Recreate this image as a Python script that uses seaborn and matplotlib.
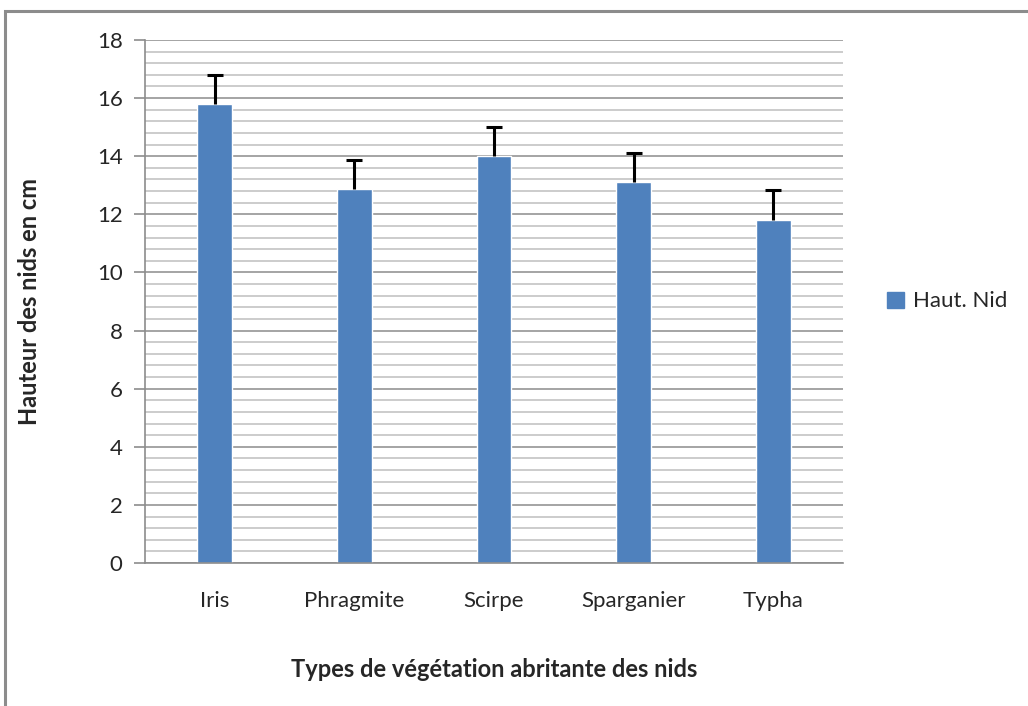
import matplotlib
matplotlib.use("Agg")
import matplotlib.pyplot as plt
import numpy as np
import pandas as pd
import seaborn as sns
from matplotlib.patches import Patch, Rectangle
from matplotlib.ticker import MultipleLocator

categories = ["Iris", "Phragmite", "Scirpe", "Sparganier", "Typha"]
heights = [15.8, 12.87, 14.0, 13.11, 11.8]
errors = [1.0, 1.0, 1.0, 1.0, 1.03]

df = pd.DataFrame({"type": categories, "hauteur": heights})

sns.set_style("white")
plt.rcParams["font.family"] = ["Lato", "DejaVu Sans"]

fig = plt.figure(figsize=(10.28, 7.06), dpi=100)
ax = fig.add_axes([0.141, 0.2025, 0.679, 0.741])

bar_color = "#4F81BD"
sns.barplot(data=df, x="type", y="hauteur", color=bar_color, width=0.25,
            errorbar=None, saturation=1, ax=ax)
eb = ax.errorbar(np.arange(len(categories)), heights,
                 yerr=[np.zeros(len(errors)), errors], fmt="none",
                 ecolor="black", elinewidth=2.2, capsize=6, capthick=2.2,
                 zorder=4)
# plus-only error bars: hide the caps sitting on the bar tops
eb.lines[1][0].set_visible(False)

ax.set_ylim(0, 18)
ax.set_xlim(-0.5, len(categories) - 0.5)
ax.yaxis.set_major_locator(MultipleLocator(2))
ax.yaxis.set_minor_locator(MultipleLocator(0.4))
ax.grid(which="major", axis="y", color="#8c8c8c", linewidth=1.1)
ax.grid(which="minor", axis="y", color="#bfbfbf", linewidth=1.1)
ax.set_axisbelow(True)

for side in ["top", "right"]:
    ax.spines[side].set_visible(False)
for side in ["left", "bottom"]:
    ax.spines[side].set_color("#8c8c8c")
    ax.spines[side].set_linewidth(1.2)

ax.tick_params(axis="y", which="major", length=8, color="#8c8c8c", width=1.2,
               labelsize=16, pad=8, left=True)
ax.tick_params(axis="y", which="minor", length=0)
ax.tick_params(axis="x", length=0, labelsize=16, pad=20)

ax.set_xlabel("Types de végétation abritante des nids", fontsize=17,
              fontweight="bold", labelpad=34)
ax.set_ylabel("Hauteur des nids en cm", fontsize=17, fontweight="bold",
              labelpad=40)

ax.legend(handles=[Patch(color=bar_color, label="Haut. Nid")],
          loc="center left", bbox_to_anchor=(1.035, 0.5), frameon=False,
          fontsize=16, handlelength=0.75, handleheight=0.75, handletextpad=0.4)

fig.patches.append(Rectangle((5 / 1028, -0.1), 1.1, 1 - 11 / 706 + 0.1,
                             transform=fig.transFigure, fill=False,
                             edgecolor="#8c8c8c", linewidth=2.2))

fig.savefig("out.png", dpi=100)
